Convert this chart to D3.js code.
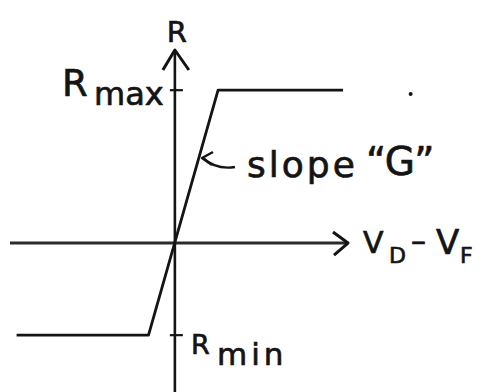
<!DOCTYPE html>
<html>
<head>
<meta charset="utf-8">
<script src="https://cdn.jsdelivr.net/npm/d3@7"></script>
<style>
  html, body { margin: 0; padding: 0; background: #fff; }
  svg text { font-family: "DejaVu Sans", sans-serif; fill: #141414; stroke: #141414; stroke-width: 0.7px; }
</style>
</head>
<body>
<div id="chart"></div>
<script>
// curve R vs (VD - VF), clipped between Rmin and Rmax, slope G in between
const curveX = [-4.8, -0.8, 1.31, 5.1];
const curveR = [-0.94, -0.94, 1.56, 1.56];

// ticks on the R axis
const tickValues = [1.56, -0.94];
const tickNames = ["max", "min"];

// stray ink dot in the scan
const dotX = [7.15];
const dotR = [1.52];

const width = 479;
const height = 392;
const ink = "#141414";

const svg = d3.select("#chart")
    .append("svg")
    .attr("width", width)
    .attr("height", height);

const x = d3.scaleLinear()
    .domain([-5, 5.25])
    .range([10, 348]);

const y = d3.scaleLinear()
    .domain([-1.52, 1.97])
    .range([392, 50]);

const x0 = x(0);
const y0 = y(0);

// axes (hand drawn look, open arrow heads)
svg.append("line")
    .attr("x1", x(-5)).attr("y1", y0)
    .attr("x2", x(5.25)).attr("y2", y0)
    .attr("stroke", "#2a2a2a")
    .attr("stroke-width", 3);

svg.append("path")
    .attr("d", `M${x(5.25) - 15},${y0 - 11} L${x(5.25)},${y0} L${x(5.25) - 14},${y0 + 12}`)
    .attr("fill", "none")
    .attr("stroke", ink)
    .attr("stroke-width", 3)
    .attr("stroke-linejoin", "round");

svg.append("line")
    .attr("x1", x0).attr("y1", y(-1.52))
    .attr("x2", x0).attr("y2", y(1.97))
    .attr("stroke", ink)
    .attr("stroke-width", 2.6);

svg.append("path")
    .attr("d", `M${x0 - 12},${y(1.97) + 20} L${x0},${y(1.97)} L${x0 + 14},${y(1.97) + 20}`)
    .attr("fill", "none")
    .attr("stroke", ink)
    .attr("stroke-width", 3)
    .attr("stroke-linejoin", "round");

// ticks
svg.selectAll("line.tick")
    .data(tickValues)
    .enter()
    .append("line")
    .attr("class", "tick")
    .attr("x1", x0 - 5).attr("x2", x0 + 8)
    .attr("y1", d => y(d)).attr("y2", d => y(d))
    .attr("stroke", ink)
    .attr("stroke-width", 2.2);

// the curve
const pts = curveX.map((v, i) => [v, curveR[i]]);
const line = d3.line()
    .x(d => x(d[0]))
    .y(d => y(d[1]));

svg.append("path")
    .datum(pts)
    .attr("d", line)
    .attr("fill", "none")
    .attr("stroke", ink)
    .attr("stroke-width", 2.8)
    .attr("stroke-linejoin", "round");

svg.selectAll("circle.dot")
    .data(dotX)
    .enter()
    .append("circle")
    .attr("class", "dot")
    .attr("cx", d => x(d))
    .attr("cy", (d, i) => y(dotR[i]))
    .attr("r", 2)
    .attr("fill", ink);

// labels
svg.append("text")
    .attr("x", x0 + 2).attr("y", 42)
    .attr("text-anchor", "middle")
    .style("font-size", "29px")
    .text("R");

// Rmax
svg.append("text")
    .attr("x", 62).attr("y", y(tickValues[0]) + 6)
    .style("font-size", "37px")
    .text("R");
svg.append("text")
    .attr("x", 94).attr("y", y(tickValues[0]) + 15)
    .style("font-size", "32px")
    .text(tickNames[0]);

// Rmin
svg.append("text")
    .attr("x", 191).attr("y", y(tickValues[1]) + 19)
    .style("font-size", "27px")
    .text("R");
svg.append("text")
    .attr("x", 217).attr("y", y(tickValues[1]) + 30)
    .style("font-size", "31px")
    .style("letter-spacing", "4px")
    .text(tickNames[1]);

// VD - VF
const vy = y0 + 10;
svg.append("text").attr("x", 363).attr("y", vy).style("font-size", "30px").text("V");
svg.append("text").attr("x", 389).attr("y", vy + 10).style("font-size", "22px").text("D");
svg.append("text").attr("x", 411).attr("y", vy - 2).style("font-size", "30px").text("–");
svg.append("text").attr("x", 436).attr("y", vy + 1).style("font-size", "34px").text("V");
svg.append("text").attr("x", 460).attr("y", vy + 10).style("font-size", "22px").text("F");

// slope "G" annotation
svg.append("path")
    .attr("d", "M235,167 Q216,170 203,158")
    .attr("fill", "none")
    .attr("stroke", ink)
    .attr("stroke-width", 2.4);
svg.append("path")
    .attr("d", "M213,152 L202,158 L212,165")
    .attr("fill", "none")
    .attr("stroke", ink)
    .attr("stroke-width", 2.4)
    .attr("stroke-linejoin", "round");

svg.append("text")
    .attr("x", 247).attr("y", 177)
    .style("font-size", "36px")
    .style("letter-spacing", "3px")
    .text("slope");
svg.append("text")
    .attr("x", 366).attr("y", 175)
    .style("font-size", "39px")
    .text("“G”");
</script>
</body>
</html>
